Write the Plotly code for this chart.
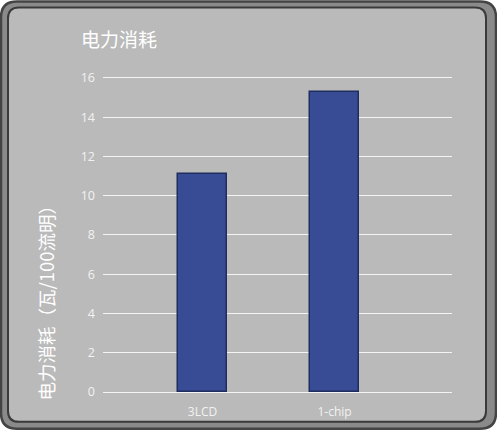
import plotly.graph_objects as go

# data
categories = ['3LCD', '1-chip']
power_values = [11.1, 15.3]
y_ticks = [0, 2, 4, 6, 8, 10, 12, 14, 16]

W, H = 497, 432
ML, MR, MT, MB = 103, 45, 76, 38
PW, PH = W - ML - MR, H - MT - MB

FONT = 'Open Sans, Noto Sans CJK SC, sans-serif'
CJK = 'Noto Sans CJK SC, sans-serif'


def px(x):
    return (x - ML) / PW


def py(y):
    return (H - MB - y) / PH


def rounded_rect(x0, y0, x1, y1, r):
    # path in paper coords built from pixel coords
    pts = [
        f'M {px(x0 + r)},{py(y0)}',
        f'L {px(x1 - r)},{py(y0)}',
        f'Q {px(x1)},{py(y0)} {px(x1)},{py(y0 + r)}',
        f'L {px(x1)},{py(y1 - r)}',
        f'Q {px(x1)},{py(y1)} {px(x1 - r)},{py(y1)}',
        f'L {px(x0 + r)},{py(y1)}',
        f'Q {px(x0)},{py(y1)} {px(x0)},{py(y1 - r)}',
        f'L {px(x0)},{py(y0 + r)}',
        f'Q {px(x0)},{py(y0)} {px(x0 + r)},{py(y0)}',
        'Z',
    ]
    return ' '.join(pts)


fig = go.Figure()

fig.add_trace(go.Bar(
    x=categories,
    y=power_values,
    width=0.375,
    marker=dict(color='#384b95', line=dict(color='#1f2c5e', width=1.5)),
    showlegend=False,
))

fig.update_layout(
    width=W,
    height=H,
    margin=dict(l=ML, r=MR, t=MT, b=MB),
    paper_bgcolor='white',
    plot_bgcolor='rgba(0,0,0,0)',
    bargap=0,
    xaxis=dict(
        range=[-0.754, 1.89],
        showgrid=False,
        zeroline=False,
        showline=False,
        ticks='',
        tickfont=dict(family=FONT, size=12, color='#f2f2f2'),
        ticklabelstandoff=11,
    ),
    yaxis=dict(
        range=[0, 16.1],
        tickvals=y_ticks,
        showgrid=True,
        gridcolor='#f4f4f4',
        gridwidth=1.3,
        zeroline=True,
        zerolinecolor='#f4f4f4',
        zerolinewidth=1.3,
        showline=False,
        ticks='',
        tickfont=dict(family=FONT, size=12.5, color='#f2f2f2'),
        ticklabelstandoff=7,
    ),
    shapes=[
        dict(type='path', xref='paper', yref='paper', layer='below',
             path=rounded_rect(1, 1, 496, 431, 16),
             fillcolor='#8a8a8a', line=dict(color='#444444', width=2.5)),
        dict(type='path', xref='paper', yref='paper', layer='below',
             path=rounded_rect(8, 7, 486, 424, 11),
             fillcolor='#bababa', line=dict(color='#3a3a3a', width=2)),
    ],
    annotations=[
        dict(text='电力消耗', xref='paper', yref='paper',
             x=px(79), y=py(38), xanchor='left', yanchor='middle',
             showarrow=False, font=dict(family=CJK, size=19, color='white')),
        dict(text='电力消耗（瓦/100流明）', xref='paper', yref='paper',
             x=px(46), y=py(300), xanchor='center', yanchor='middle',
             textangle=-90, showarrow=False,
             font=dict(family=CJK, size=18.5, color='white')),
    ],
)

fig.write_html('out.html', config={'displayModeBar': False},
               post_script="document.body.style.margin = '0';")
